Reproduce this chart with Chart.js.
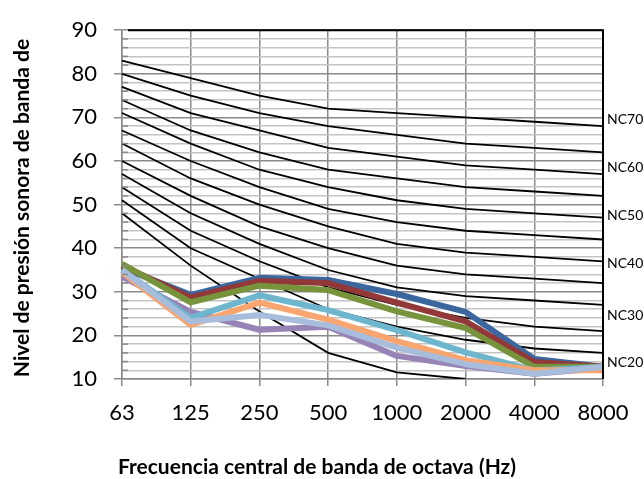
<!DOCTYPE html>
<html>
<head>
<meta charset="utf-8">
<script src="https://cdn.jsdelivr.net/npm/chart.js@4.4.1/dist/chart.umd.min.js"></script>
<style>
  html, body { margin: 0; padding: 0; background: #fff; }
  #wrap { width: 644px; height: 479px; }
</style>
</head>
<body>
<div id="wrap"><canvas id="nc" width="644" height="479"></canvas></div>
<script>
// octave band centre frequencies
const bands = ['63', '125', '250', '500', '1000', '2000', '4000', '8000'];

// NC reference curves (dB), top to bottom
const nc70 = [83, 79, 75, 72, 71, 70, 69, 68];
const nc65 = [80, 75, 71, 68, 66, 64, 63, 62];
const nc60 = [77, 71, 67, 63, 61, 59, 58, 57];
const nc55 = [74, 67, 62, 58, 56, 54, 53, 52];
const nc50 = [71, 64, 58, 54, 51, 49, 48, 47];
const nc45 = [67, 60, 54, 49, 46, 44, 43, 42];
const nc40 = [64, 56, 50, 45, 41, 39, 38, 37];
const nc35 = [60, 52, 45, 40, 36, 34, 33, 32];
const nc30 = [57, 48, 41, 35, 31, 29, 28, 27];
const nc25 = [54, 44, 37, 31, 27, 24, 22, 21];
const nc20 = [51, 40, 33, 26, 22, 19, 17, 16];
const nc15 = [48, 36, 25.5, 16, 11.5, 10, null, null];

// measured spectra
const medBlue   = [35.5, 29.3, 33.2, 32.7, 29.5, 25.4, 14.6, 12.8];
const medRed    = [36.0, 28.7, 32.5, 32.0, 27.5, 23.2, 13.9, 12.8];
const medGreen  = [36.4, 27.6, 31.4, 30.4, 25.5, 21.7, 12.8, 12.8];
const medPurple = [33.5, 25.4, 21.3, 22.0, 15.3, 13.0, 11.2, 12.5];
const medAqua   = [35.0, 24.0, 29.2, 25.8, 21.2, 16.1, 12.0, 12.7];
const medOrange = [34.5, 22.4, 27.5, 23.6, 18.7, 14.3, 12.0, 12.0];
const medSteel  = [35.0, 23.2, 24.7, 22.3, 17.2, 13.4, 11.2, 12.8];

// right-hand curve names and the level they sit at
const ncNames  = ['NC70', 'NC60', 'NC50', 'NC40', 'NC30', 'NC20'];
const ncLabelY = [69.5, 58.5, 47.5, 36.6, 24.5, 13.8];

const FONT = 'Lato, "Noto Sans", sans-serif';

const ncCurves = [nc70, nc65, nc60, nc55, nc50, nc45, nc40, nc35, nc30, nc25, nc20, nc15];
const spectra = [
  [medBlue, '#3c679e'],
  [medRed, '#923838'],
  [medGreen, '#77933c'],
  [medPurple, '#9783b6'],
  [medAqua, '#6db6ce'],
  [medOrange, '#f8a56f'],
  [medSteel, '#a8bcdb']
];

const datasets = [];
// later spectra sit on top, the black curves underneath
spectra.forEach(([vals, col], i) => {
  datasets.push({
    data: vals, borderColor: col, borderWidth: 6, pointRadius: 0,
    tension: 0, borderJoinStyle: 'round', order: 10 - i
  });
});
ncCurves.forEach(vals => {
  datasets.push({
    data: vals, borderColor: '#000', borderWidth: 1.8, pointRadius: 0,
    tension: 0, spanGaps: false, order: 20
  });
});

const extras = {
  id: 'extras',
  afterDraw(chart) {
    const { ctx, chartArea: a, scales: { y } } = chart;
    ctx.save();

    // short inner ticks on the minor divisions
    ctx.strokeStyle = '#8a8a8a';
    ctx.lineWidth = 1.5;
    y.ticks.forEach(t => {
      if (t.value % 10 === 0) return;
      const py = y.getPixelForValue(t.value);
      ctx.beginPath();
      ctx.moveTo(a.left, py);
      ctx.lineTo(a.left + 6, py);
      ctx.stroke();
    });

    // black frame on top and right
    ctx.strokeStyle = '#000';
    ctx.lineWidth = 2;
    ctx.beginPath();
    ctx.moveTo(a.left + 6, a.top);
    ctx.lineTo(a.right, a.top);
    ctx.lineTo(a.right, a.bottom);
    ctx.stroke();

    // curve names
    ctx.fillStyle = '#000';
    ctx.font = '14px ' + FONT;
    ctx.textAlign = 'left';
    ctx.textBaseline = 'middle';
    ncNames.forEach((n, i) => {
      ctx.fillText(n, a.right + 4, y.getPixelForValue(ncLabelY[i]));
    });

    // axis titles
    ctx.font = 'bold 21px ' + FONT;
    ctx.textAlign = 'center';
    ctx.fillText('Frecuencia central de banda de octava (Hz)', 317, 467);
    ctx.translate(22, 208);
    ctx.rotate(-Math.PI / 2);
    ctx.fillText('Nivel de presión sonora de banda de', 0, 0);
    ctx.restore();
  }
};

new Chart(document.getElementById('nc'), {
  type: 'line',
  data: { labels: bands, datasets: datasets },
  plugins: [extras],
  options: {
    responsive: false,
    animation: false,
    devicePixelRatio: 1,
    layout: { padding: { left: 0, top: 21, right: 41, bottom: 0 } },
    plugins: { legend: { display: false }, tooltip: { enabled: false } },
    scales: {
      x: {
        offset: false,
        afterFit: s => { s.height = 100; },
        grid: { color: '#8a8a8a', lineWidth: 1.5, tickLength: 7, offset: false },
        border: { color: '#8a8a8a', width: 1.5 },
        ticks: {
          color: '#000', padding: 14, maxRotation: 0, autoSkip: false,
          font: { family: FONT, size: 22 }
        }
      },
      y: {
        min: 10, max: 90,
        afterFit: s => { s.width = 122; },
        grid: {
          color: c => (c.tick && c.tick.value % 10 === 0) ? '#8a8a8a' : '#c4c4c4',
          tickColor: c => (c.tick && c.tick.value % 10 === 0) ? '#8a8a8a' : 'rgba(0,0,0,0)',
          lineWidth: 1.5, tickLength: 8
        },
        border: { color: '#8a8a8a', width: 1.5 },
        ticks: {
          stepSize: 2, autoSkip: false, color: '#000', padding: 17,
          font: { family: FONT, size: 22 },
          callback: v => (v % 10 === 0 ? v : '')
        }
      }
    }
  }
});
</script>
</body>
</html>
